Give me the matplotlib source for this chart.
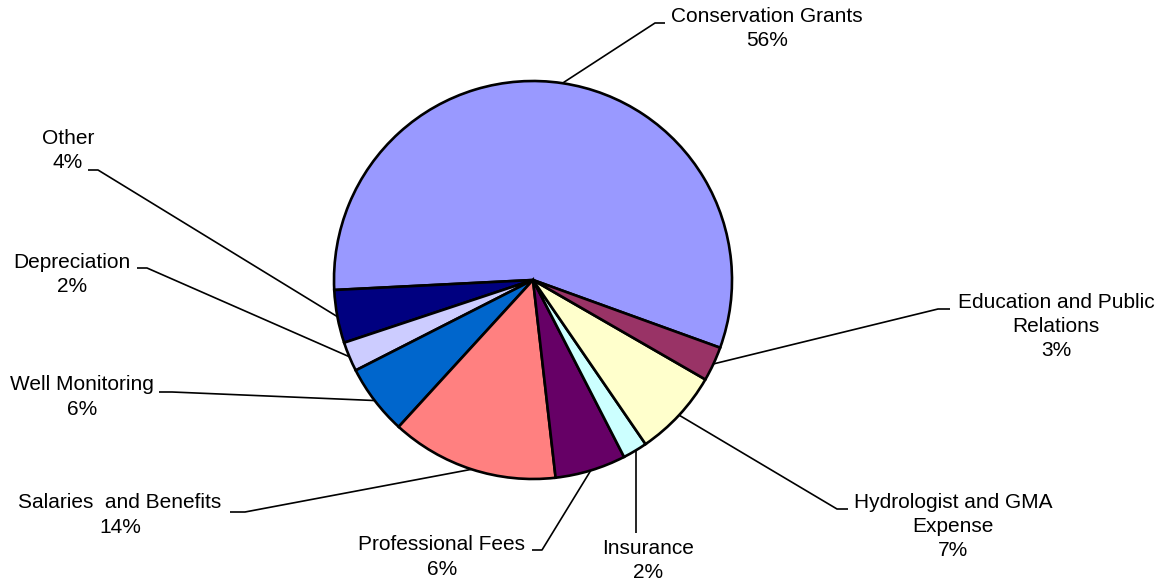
import numpy as np
import matplotlib
matplotlib.use("Agg")
import matplotlib.pyplot as plt

plt.rcParams['font.family'] = ['Liberation Sans', 'DejaVu Sans']

# Data (counter-clockwise order starting at the Education/Conservation boundary)
categories = ["Conservation Grants", "Other", "Depreciation", "Well Monitoring",
              "Salaries  and Benefits", "Professional Fees", "Insurance",
              "Hydrologist and GMA\nExpense", "Education and Public\nRelations"]
values = [56.3, 4.3, 2.4, 5.7, 13.6, 5.75, 2.0, 7.1, 2.8]
colors = ["#9999FF", "#000080", "#CCCCFF", "#0066CC", "#FF8080",
          "#660066", "#CCFFFF", "#FFFFCC", "#993366"]

W, H = 1169, 581
fig = plt.figure(figsize=(W / 100, H / 100), dpi=100)
ax = fig.add_axes([0, 0, 1, 1])

cx, cy, r = 533, H - 280, 199
wedges, _ = ax.pie(values, colors=colors, startangle=-19.9, counterclock=True,
                   center=(cx, cy), radius=r, frame=True,
                   wedgeprops=dict(edgecolor='black', linewidth=1.9))
ax.set_xlim(0, W)
ax.set_ylim(0, H)
ax.set_aspect('equal')
ax.axis('off')

total = sum(values)
# label layout: (elbow, end, text center x, first-line center y) in pixel coords (y from top)
layout = [
    ((655, 23), (665, 23), 767, 16),     # Conservation
    ((98, 170), (88, 170), 68, 138),     # Other
    ((147, 268), (137, 268), 72, 262),   # Depreciation
    ((172, 392), (159, 392), 82, 385),   # Well
    ((245, 512), (230, 512), 120, 503),  # Salaries
    ((542, 550), (532, 550), 442, 545),  # Prof fees
    ((636, 533), (636, 533), 648, 548),  # Insurance
    ((837, 509), (848, 509), 953, 502),  # Hydro
    ((938, 309), (950, 309), 1056, 302), # Education
]

spacing = 24.5
for w, cat, val, (elb, end, tx, ty) in zip(wedges, categories, values, layout):
    mid = np.deg2rad((w.theta1 + w.theta2) / 2)
    sx, sy = cx + r * np.cos(mid), cy + r * np.sin(mid)
    if cat == "Insurance":
        sx = elb[0]
        sy = cy - np.sqrt(r**2 - (sx - cx)**2)
    xs = [sx, elb[0], end[0]]
    ys = [sy, H - elb[1], H - end[1]]
    ax.plot(xs, ys, color='black', lw=1.2, solid_capstyle='butt', zorder=0)
    pct = f"{round(val / total * 100):.0f}%"
    lines = cat.split("\n") + [pct]
    for i, line in enumerate(lines):
        ax.text(tx, H - (ty + i * spacing), line, ha='center', va='center',
                fontsize=15, color='black')

fig.savefig("out.png", dpi=100)
